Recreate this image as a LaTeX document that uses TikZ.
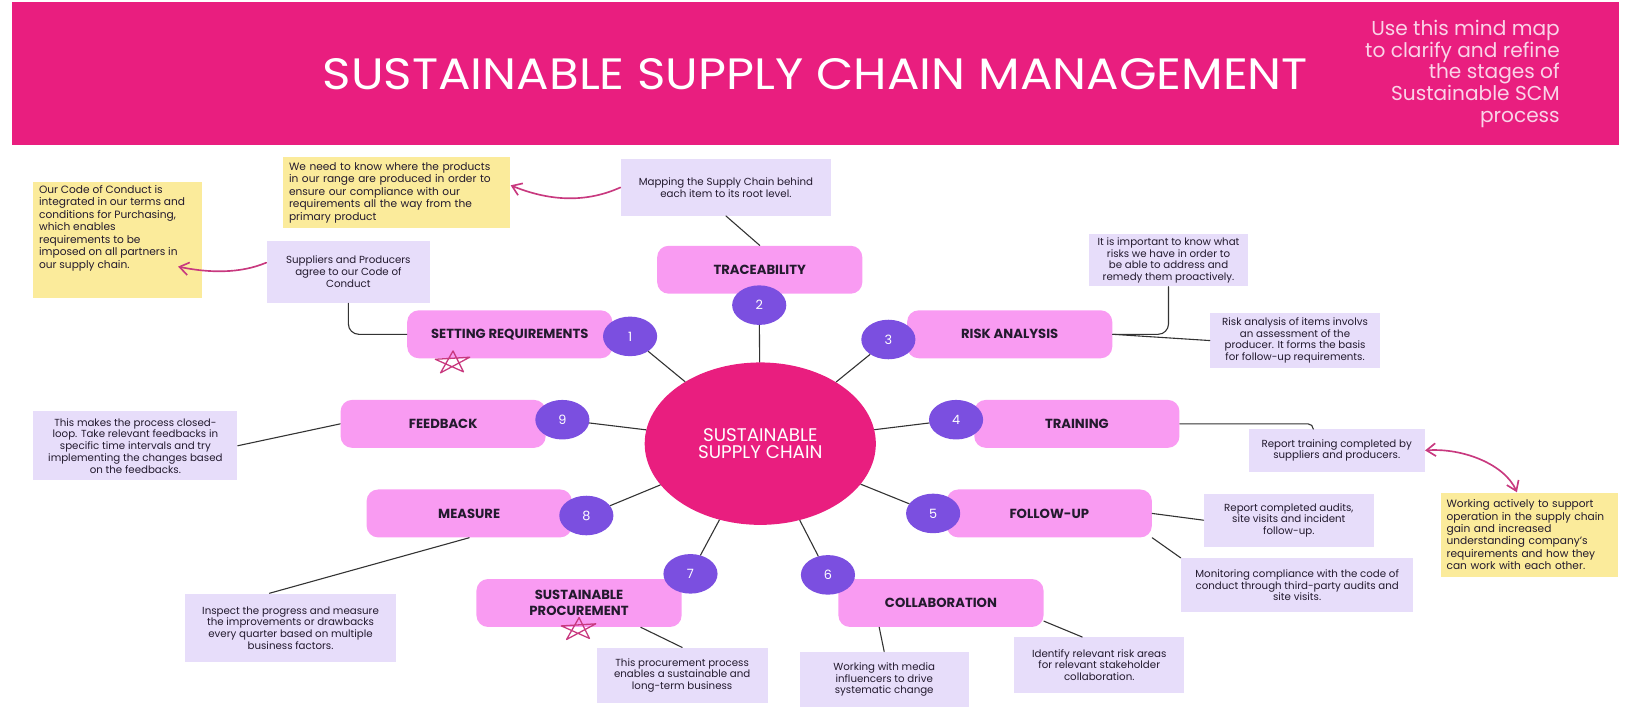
\documentclass[tikz,border=0pt]{standalone}
\usepackage{fontspec}
\usepackage{graphicx}
\setmainfont{Poppins}
\usetikzlibrary{shapes.geometric,arrows.meta,calc}
\definecolor{scmpink}{HTML}{E91E7F}
\definecolor{stagepink}{HTML}{F99BF2}
\definecolor{numpurple}{HTML}{7B4FE0}
\definecolor{notelilac}{HTML}{E7DDFA}
\definecolor{stickyyellow}{HTML}{FBEB9B}
\definecolor{arrowpink}{HTML}{C8397F}
\definecolor{linegray}{HTML}{333333}
\definecolor{inkdark}{HTML}{231A2E}
\definecolor{subpink}{HTML}{FAD3E8}
\tikzset{
	stage/.style={rectangle, rounded corners=0.22cm, fill=stagepink, minimum width=3.94cm, minimum height=0.92cm, inner sep=0pt, text=inkdark, font=\fontsize{7.2}{8.6}\selectfont\bfseries},
	num/.style={ellipse, fill=numpurple, minimum width=1.04cm, minimum height=0.76cm, inner sep=0pt, text=white, font=\fontsize{7}{8}\selectfont},
	note/.style={rectangle, fill=notelilac, align=center, inner sep=0pt, text=inkdark, font=\fontsize{5.6}{6.4}\selectfont},
	sticky/.style={rectangle, fill=stickyyellow, inner sep=0pt},
	stickytext/.style={align=left, inner sep=0pt, text=inkdark, font=\fontsize{5.8}{6.8}\selectfont},
	link/.style={draw=linegray, line width=0.6pt},
	pinkarrow/.style={draw=arrowpink, line width=0.9pt, -{Straight Barb[length=5pt,width=7pt]}},
	twoway/.style={draw=arrowpink, line width=0.9pt, {Straight Barb[length=5pt,width=7pt]}-{Straight Barb[length=5pt,width=7pt]}},
	scribble/.style={draw=arrowpink, line width=0.7pt},
}
\begin{document}
\begin{tikzpicture}[x=0.02cm, y=-0.02cm, line join=round, line cap=round]
	\useasboundingbox (0,0) rectangle (1568,685);
	% header
	\fill[scmpink] (12,2) rectangle (1555,139);
	\node[inner sep=0pt, text=white, font=\fontsize{24}{26}\selectfont] (title) at (783,71) {\scalebox{1.1}[1]{SUSTAINABLE SUPPLY CHAIN MANAGEMENT}};
	\node[anchor=east, align=right, inner sep=0pt, text=subpink, font=\fontsize{11}{11.9}\selectfont] (intro) at (1498,71) {Use this mind map\\to clarify and refine\\the stages of\\Sustainable SCM\\process};
	% hub and stages
	\node[ellipse, fill=scmpink, minimum width=4.44cm, minimum height=3.12cm, align=center, text=white, font=\fontsize{10}{9.5}\selectfont] (hub) at (730,426) {SUSTAINABLE\\SUPPLY CHAIN};
	\node[stage] (setreq) at (489.5,321) {SETTING REQUIREMENTS};
	\node[stage] (trace) at (729.5,259) {TRACEABILITY};
	\node[stage] (risk) at (969.5,321) {RISK ANALYSIS};
	\node[stage] (feedback) at (425.5,407) {FEEDBACK};
	\node[stage] (training) at (1034,407) {TRAINING};
	\node[stage] (measure) at (450.5,493) {MEASURE};
	\node[stage] (followup) at (1007.5,493) {FOLLOW-UP};
	\node[stage, align=center] (procure) at (556,579) {SUSTAINABLE\\PROCUREMENT};
	\node[stage] (collab) at (903.5,579) {COLLABORATION};
	\foreach \i/\x/\y in {1/605/323,2/729/293,3/853/326,4/918/403,5/896/493,6/795/552,7/663/551,8/563/495,9/540/403}
		\node[num] (n\i) at (\x,\y) {\i};
	\foreach \i in {1,...,9}\draw[link] (n\i) -- (hub);
	% notes
	\node[note, minimum width=4.04cm, minimum height=1.08cm] (map) at (697,180) {Mapping the Supply Chain behind\\each item to its root level.};
	\node[note, minimum width=3.14cm, minimum height=1.2cm] (sup) at (334.5,261) {Suppliers and Producers\\agree to our Code of\\Conduct};
	\node[note, minimum width=3.04cm, minimum height=1cm] (imp) at (1122,250) {It is important to know what\\risks we have in order to\\be able to address and\\remedy them proactively.};
	\node[note, minimum width=3.26cm, minimum height=1.04cm] (riskitems) at (1243.5,327) {Risk analysis of items involvs\\an assessment of the\\producer. It forms the basis\\for follow-up requirements.};
	\node[note, minimum width=3.92cm, minimum height=1.32cm] (closed) at (130,428) {This makes the process closed-\\loop. Take relevant feedbacks in\\specific time intervals and try\\implementing the changes based\\on the feedbacks.};
	\node[note, minimum width=3.38cm, minimum height=0.82cm] (reptrain) at (1283.5,432.5) {Report training completed by\\suppliers and producers.};
	\node[note, minimum width=3.26cm, minimum height=1.02cm] (audits) at (1237.5,499.5) {Report completed audits,\\site visits and incident\\follow-up.};
	\node[note, minimum width=4.46cm, minimum height=1.04cm] (monitor) at (1245.5,562) {Monitoring compliance with the code of\\conduct through third-party audits and\\site visits.};
	\node[note, minimum width=4.04cm, minimum height=1.32cm] (inspect) at (279,603) {Inspect the progress and measure\\the improvements or drawbacks\\every quarter based on multiple\\business factors.};
	\node[note, minimum width=3.28cm, minimum height=1.06cm] (procnote) at (655,648.5) {This procurement process\\enables a sustainable and\\long-term business};
	\node[note, minimum width=3.24cm, minimum height=1.06cm] (media) at (849,652.5) {Working with media\\influencers to drive\\systematic change};
	\node[note, minimum width=3.26cm, minimum height=1.06cm] (identify) at (1055.5,638.5) {Identify relevant risk areas\\for relevant stakeholder\\collaboration.};
	% sticky notes
	\node[sticky, minimum width=3.24cm, minimum height=2.22cm] (code) at (113,230.5) {};
	\node[stickytext, anchor=north west] (codetext) at ([xshift=0.11cm,yshift=-0.06cm]code.north west) {Our Code of Conduct is\\integrated in our terms and\\conditions for Purchasing,\\which enables\\requirements to be\\imposed on all partners in\\our supply chain.};
	\node[sticky, stickytext, minimum width=4.36cm, minimum height=1.36cm, text width=4.14cm, inner xsep=0.11cm] (need) at (381,185) {We need to know where the products\\in our range are produced in order to\\ensure our compliance with our\\requirements all the way from the\\primary product};
	\node[sticky, stickytext, minimum width=3.4cm, minimum height=1.62cm, text width=3.2cm, inner xsep=0.1cm] (working) at (1469,513.5) {Working actively to support\\operation in the supply chain\\gain and increased\\understanding company's\\requirements and how they\\can work with each other.};
	\coordinate (codetip) at (171,256);
	% connectors
	\draw[link, rounded corners=0.2cm] (sup.south) |- (setreq.west);
	\draw[link] (map.south) -- (trace.north);
	\draw[link, rounded corners=0.2cm] (risk.east) -| (imp.south);
	\draw[link] (risk.east) -- (riskitems.west);
	\draw[link, rounded corners=0.1cm] (training.east) -| ([xshift=-0.45cm]reptrain.north);
	\draw[link] (followup.east) -- (audits.west);
	\draw[link] (followup.south east) -- (monitor.north west);
	\draw[link] ($(collab.south west)!0.2!(collab.south east)$) -- (media.north);
	\draw[link] (collab.-10) -- ($(identify.north west)!0.4!(identify.north east)$);
	\draw[link] ($(procure.south west)!0.8!(procure.south east)$) -- (procnote.north);
	\draw[link] (measure.south) -- ($(inspect.north west)!0.4!(inspect.north east)$);
	\draw[link] (feedback.west) -- (closed.east);
	% pink arrows
	\draw[pinkarrow] (map.west) .. controls (560,196) and (525,192) .. ([yshift=4pt]need.east);
	\draw[pinkarrow] ([yshift=5pt]sup.west) .. controls (230,263) and (200,262) .. (codetip);
	\draw[twoway] (reptrain.east) .. controls (1405,430) and (1445,446) .. ([xshift=-0.25cm]working.north);
	% doodled stars
	\foreach \sx/\sy in {434/347,555/603}
		\draw[scribble] (\sx,\sy) ++(1,-10) -- ++(10,20) -- ++(-27,-12) -- ++(33,-2) -- ++(-28,15) -- cycle;
\end{tikzpicture}
\end{document}
